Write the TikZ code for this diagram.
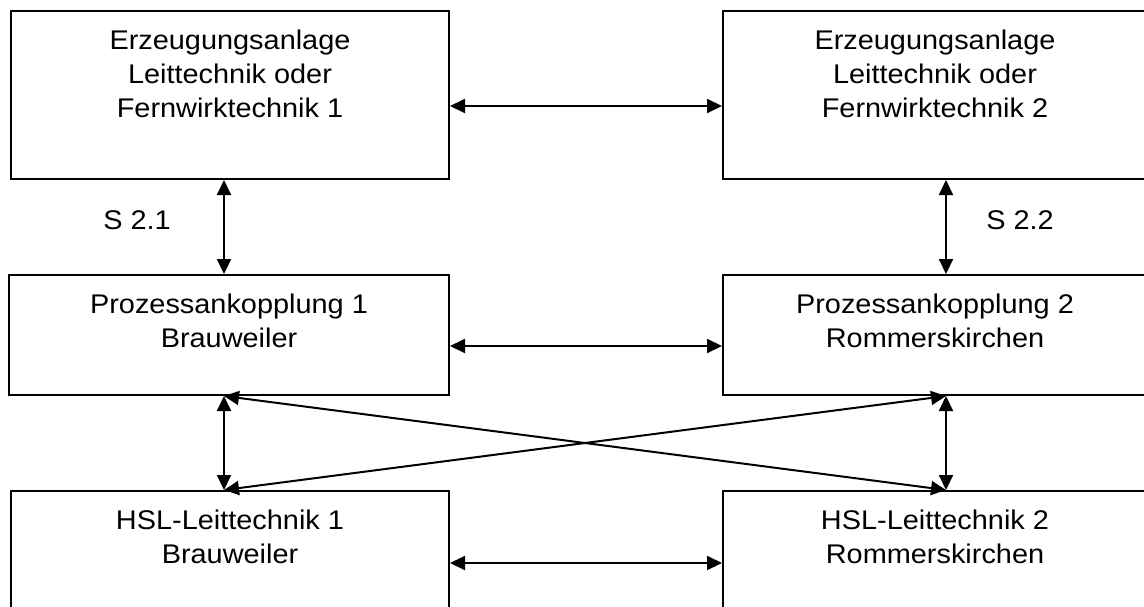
\documentclass[tikz,border=0pt]{standalone}
\usepackage{fontspec}
\setmainfont[FakeStretch=1.07]{Liberation Sans}
\usetikzlibrary{arrows.meta,calc}
\begin{document}
\begin{tikzpicture}[x=1pt,y=-1pt,
  box/.style={draw,line width=2pt,inner sep=0pt,anchor=north west},
  txt/.style={align=center,inner sep=0pt,anchor=north,font=\fontsize{27}{34}\selectfont},
  lbl/.style={inner sep=0pt,font=\fontsize{27}{34}\selectfont},
  arr/.style={line width=2pt,{Triangle[length=15pt,width=14pt]}-{Triangle[length=15pt,width=14pt]}}]
\useasboundingbox (0,0) rectangle (1144,606);
\node[box,minimum width=438pt,minimum height=168pt] (A) at (10,10) {};
\node[box,minimum width=424pt,minimum height=168pt] (B) at (722,10) {};
\node[box,minimum width=440pt,minimum height=120pt] (C) at (8,274) {};
\node[box,minimum width=424pt,minimum height=120pt] (D) at (722,274) {};
\node[box,minimum width=438pt,minimum height=140pt] (E) at (10,490) {};
\node[box,minimum width=424pt,minimum height=140pt] (F) at (722,490) {};
\node[txt] (tA) at ($(A.north)+(0,19.5)$) {Erzeugungsanlage\\Leittechnik oder\\Fernwirktechnik 1};
\node[txt] (tB) at ($(B.north)+(0,19.5)$) {Erzeugungsanlage\\Leittechnik oder\\Fernwirktechnik 2};
\node[txt] (tC) at ($(C.north)+(0,19.5)$) {Prozessankopplung 1\\Brauweiler};
\node[txt] (tD) at ($(D.north)+(0,19.5)$) {Prozessankopplung 2\\Rommerskirchen};
\node[txt] (tE) at ($(E.north)+(0,19.5)$) {HSL-Leittechnik 1\\Brauweiler};
\node[txt] (tF) at ($(F.north)+(0,19.5)$) {HSL-Leittechnik 2\\Rommerskirchen};
\node[lbl] (s21) at (137,220) {S 2.1};
\node[lbl] (s22) at (1020,220) {S 2.2};
\coordinate (xl) at (224,0);
\coordinate (xr) at (946,0);
\coordinate (yt) at (0,106);
\coordinate (ym) at (0,346);
\coordinate (yb) at (0,563);
\draw[arr] (A.east |- yt) -- (B.west |- yt);
\draw[arr] (C.east |- ym) -- (D.west |- ym);
\draw[arr] (E.east |- yb) -- (F.west |- yb);
\draw[arr] (A.south -| xl) -- (C.north -| xl);
\draw[arr] (B.south -| xr) -- (D.north -| xr);
\draw[arr] (C.south -| xl) -- (E.north -| xl);
\draw[arr] (D.south -| xr) -- (F.north -| xr);
\draw[arr] (C.south -| xl) -- (F.north -| xr);
\draw[arr] (E.north -| xl) -- (D.south -| xr);
\end{tikzpicture}
\end{document}
